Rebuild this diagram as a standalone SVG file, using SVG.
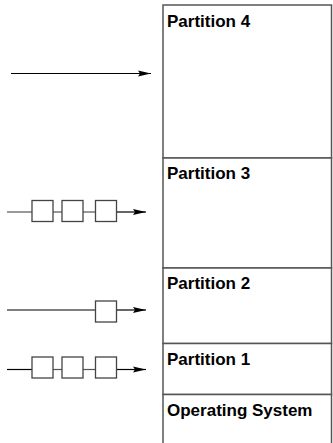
<svg xmlns="http://www.w3.org/2000/svg" width="333" height="443" viewBox="0 0 333 443">
  <defs>
    <marker id="arrow" markerWidth="14" markerHeight="7" refX="13" refY="3.5" orient="auto" markerUnits="userSpaceOnUse">
      <path d="M0,0.5 L13,3.5 L0,6.5 L2,3.5 Z" fill="#000"/>
    </marker>
  </defs>
  <style>
    .part { fill: #fff; stroke: #555; stroke-width: 1.5; }
    .label { font-family: "Liberation Sans", Arial, sans-serif; font-weight: bold; font-size: 17px; fill: #000; }
    .job { fill: #fff; stroke: #444; stroke-width: 1.3; }
    .link { stroke: #555; stroke-width: 1.2; fill: none; }
    .feed { stroke: #000; stroke-width: 1.2; fill: none; }
  </style>

  <!-- memory partitions -->
  <g id="partition4">
    <rect class="part" x="163" y="5" width="168.5" height="153"/>
    <text class="label" x="167" y="27">Partition 4</text>
  </g>
  <g id="partition3">
    <rect class="part" x="163" y="158" width="168.5" height="110"/>
    <text class="label" x="167" y="179">Partition 3</text>
  </g>
  <g id="partition2">
    <rect class="part" x="163" y="268" width="168.5" height="75.5"/>
    <text class="label" x="167" y="289">Partition 2</text>
  </g>
  <g id="partition1">
    <rect class="part" x="163" y="343.5" width="168.5" height="51"/>
    <text class="label" x="167" y="365">Partition 1</text>
  </g>
  <g id="os">
    <path class="part" d="M163,446 V394.5 H331.5 V446"/>
    <text class="label" x="167" y="416">Operating System</text>
  </g>

  <!-- input queues -->
  <g id="queue4">
    <line class="feed" x1="11" y1="73.5" x2="151" y2="73.5" marker-end="url(#arrow)"/>
  </g>
  <g id="queue3">
    <line class="link" x1="7" y1="212" x2="32" y2="212"/>
    <line class="link" x1="53" y1="212" x2="62" y2="212"/>
    <line class="link" x1="83" y1="212" x2="95.5" y2="212"/>
    <line class="feed" x1="116.5" y1="212" x2="146" y2="212" marker-end="url(#arrow)"/>
    <rect class="job" x="32" y="200.5" width="21" height="21"/>
    <rect class="job" x="62" y="200.5" width="21" height="21"/>
    <rect class="job" x="95.5" y="200.5" width="21" height="21"/>
  </g>
  <g id="queue2">
    <line class="feed" x1="7" y1="310" x2="95.5" y2="310"/>
    <line class="feed" x1="116.5" y1="310" x2="146" y2="310" marker-end="url(#arrow)"/>
    <rect class="job" x="95.5" y="301" width="21" height="21"/>
  </g>
  <g id="queue1">
    <line class="feed" x1="7" y1="369.5" x2="32" y2="369.5"/>
    <line class="link" x1="53" y1="369.5" x2="62" y2="369.5"/>
    <line class="link" x1="83" y1="369.5" x2="95.5" y2="369.5"/>
    <line class="feed" x1="116.5" y1="369.5" x2="146" y2="369.5" marker-end="url(#arrow)"/>
    <rect class="job" x="32" y="357" width="21" height="21"/>
    <rect class="job" x="62" y="357" width="21" height="21"/>
    <rect class="job" x="95.5" y="357" width="21" height="21"/>
  </g>
</svg>
